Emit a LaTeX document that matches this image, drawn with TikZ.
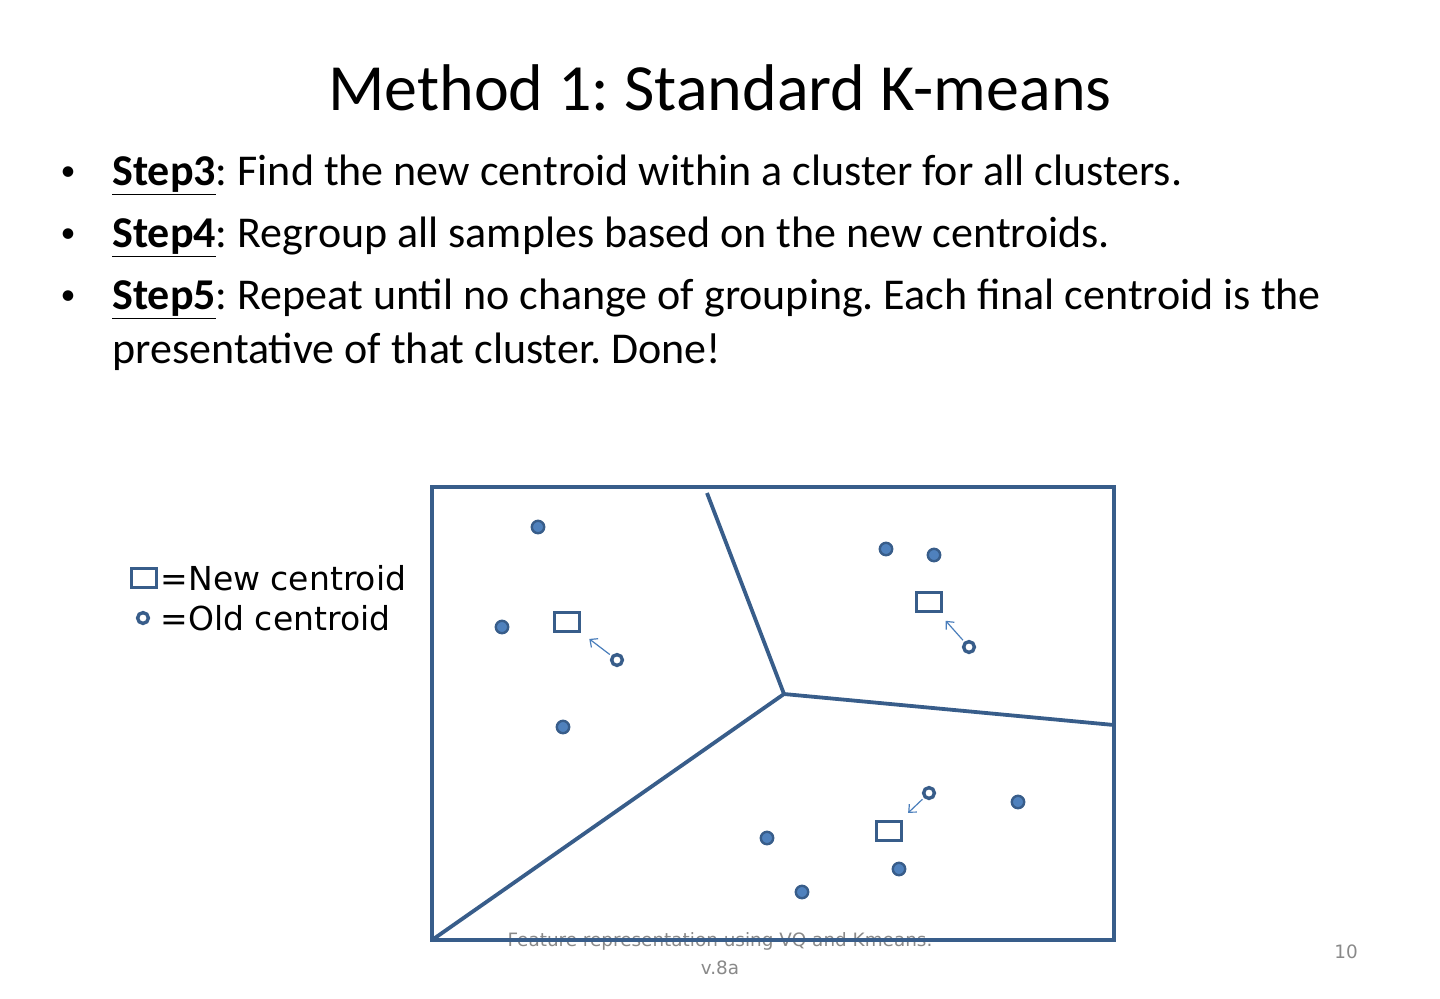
\documentclass[tikz,border=0pt]{standalone}
\usepackage{fontspec}
\setmainfont{Carlito}
\newfontfamily\legendfont{DejaVu Sans}
\usetikzlibrary{positioning,arrows.meta}
\definecolor{kmLine}{RGB}{56,93,138}
\definecolor{kmFill}{RGB}{79,129,189}
\definecolor{kmArrow}{RGB}{74,126,187}
\definecolor{kmGray}{RGB}{137,137,137}
\frenchspacing

\begin{document}
\begin{tikzpicture}[x=0.5pt,y=-0.5pt,
      sample/.style={circle,draw=kmLine,fill=kmFill,line width=1.2pt,inner sep=0pt,minimum size=6.2pt},
      newc/.style={draw=kmLine,line width=1.7pt,fill=white,inner sep=0pt,minimum width=12.6pt,minimum height=9.6pt},
      oldc/.style={circle,draw=kmLine,line width=1.7pt,fill=white,inner sep=0pt,minimum size=5.4pt},
      border/.style={kmLine,line width=1.9pt},
      move/.style={-{Straight Barb[length=3pt,width=5.5pt]},kmArrow,line width=0.6pt,shorten <=1pt,shorten >=5pt},
      bullet/.style={anchor=base west,font=\fontsize{22}{26}\selectfont,inner sep=0pt},
      dot/.style={font=\fontsize{15}{18}\selectfont,inner sep=0pt}]
    \useasboundingbox (0,0) rectangle (1440,998);
    % title and bullets
    \node[font=\fontsize{33}{40}\selectfont] (title) at (720,88) {Method 1: Standard K-means};
    \node[dot] (b1) at (68,174) {\textbullet};
    \node[bullet] (s3) at (112,185) {\textbf{\underline{Step3}}: Find the new centroid within a cluster for all clusters.};
    \node[dot] (b2) at (68,236) {\textbullet};
    \node[bullet] (s4) at (112,247) {\textbf{\underline{Step4}}: Regroup all samples based on the new centroids.};
    \node[dot] (b3) at (68,298) {\textbullet};
    \node[bullet] (s5) at (112,309) {\textbf{\underline{Step5}}: Repeat until no change of grouping. Each final centroid is the};
    \node[bullet] (s5b) at (112,363) {presentative of that cluster. Done!};
    % footer
    \node[font=\legendfont\fontsize{9.2}{14}\selectfont,text=kmGray,align=center] (foot) at (720,954) {Feature representation using VQ and Kmeans.\\v.8a};
    \node[font=\legendfont\fontsize{9.2}{11}\selectfont,text=kmGray] (page) at (1346,952) {10};
    % legend
    \node[newc] (lgnew) at (144,578) {};
    \node[right=1pt of lgnew,font=\legendfont\fontsize{16.5}{19}\selectfont,inner sep=0pt] (lgnewtxt) {=New centroid};
    \node[oldc] (lgold) at (143,618) {};
    \node[font=\legendfont\fontsize{16.5}{19}\selectfont,inner sep=0pt,anchor=west] (lgoldtxt) at (lgnewtxt.west |- lgold) {=Old centroid};
    % regions
    \draw[border] (432,487) rectangle (1114,940);
    \coordinate (top) at (707,493);
    \coordinate (mid) at (784,694);
    \coordinate (right) at (1114,725);
    \coordinate (corner) at (432,940);
    \draw[border] (top) -- (mid) -- (right);
    \draw[border] (mid) -- (corner);
    % samples
    \node[sample] (p1) at (538,527) {};
    \node[sample] (p2) at (502,627) {};
    \node[sample] (p3) at (563,727) {};
    \node[sample] (p4) at (886,549) {};
    \node[sample] (p5) at (934,555) {};
    \node[sample] (p6) at (1018,802) {};
    \node[sample] (p7) at (767,838) {};
    \node[sample] (p8) at (899,869) {};
    \node[sample] (p9) at (802,892) {};
    % centroids
    \node[newc] (n1) at (567,622) {};
    \node[newc] (n2) at (929,602) {};
    \node[newc] (n3) at (889,831) {};
    \node[oldc] (o1) at (617,660) {};
    \node[oldc] (o2) at (969,647) {};
    \node[oldc] (o3) at (929,793) {};
    \draw[move] (o1) -- (n1);
    \draw[move] (o2) -- (n2);
    \draw[move] (o3) -- (n3);
  \end{tikzpicture}
\end{document}
